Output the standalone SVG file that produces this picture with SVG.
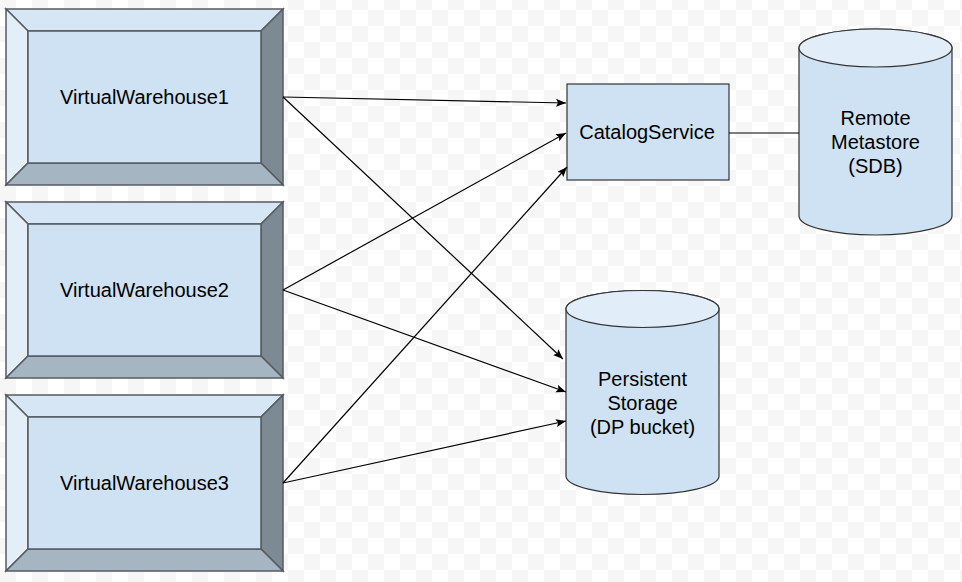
<svg xmlns="http://www.w3.org/2000/svg" width="962" height="582" viewBox="0 0 962 582">
  <defs>
    <pattern id="checker" patternUnits="userSpaceOnUse" x="0" y="10" width="32" height="32">
      <rect width="32" height="32" fill="#ffffff"/>
      <rect x="16" y="0" width="16" height="16" fill="#f6f6f6"/>
      <rect x="0" y="16" width="16" height="16" fill="#f6f6f6"/>
    </pattern>
    <marker id="arrow" markerUnits="userSpaceOnUse" markerWidth="12" markerHeight="10" refX="10" refY="4" orient="auto">
      <path d="M0,0 L10,4 L0,8 L2,4 z" fill="#000"/>
    </marker>
  </defs>
  <style>
    .txt { font-family: "Liberation Sans", Arial, sans-serif; font-size: 20px; fill: #000; text-anchor: middle; }
    .bv { stroke: #555b61; stroke-width: 1.5; stroke-linejoin: miter; }
    .top { fill: #d6e6f5; }
    .left { fill: #e3eef9; }
    .right { fill: #7d8993; }
    .bottom { fill: #a6b5c2; }
    .face { fill: #cfe2f3; stroke: #555b61; stroke-width: 1.5; }
    .box { fill: #cfe2f3; stroke: #333; stroke-width: 1.2; }
    .cylbody { fill: #cfe2f3; stroke: #333; stroke-width: 1.2; }
    .cyltop { fill: #e1edf8; stroke: #333; stroke-width: 1.2; }
    .edge { stroke: #000; stroke-width: 1.2; fill: none; }
  </style>
  <rect width="962" height="582" fill="url(#checker)"/>

  <g id="vw1">
    <polygon class="bv top" points="6,9 283,9 261,31 28,31"/>
    <polygon class="bv left" points="6,9 28,31 28,163 6,185"/>
    <polygon class="bv right" points="283,9 283,185 261,163 261,31"/>
    <polygon class="bv bottom" points="6,185 28,163 261,163 283,185"/>
    <rect class="face" x="28" y="31" width="233" height="132"/>
    <text class="txt" x="144.5" y="104">VirtualWarehouse1</text>
  </g>
  <g id="vw2">
    <polygon class="bv top" points="6,202 283,202 261,224 28,224"/>
    <polygon class="bv left" points="6,202 28,224 28,356 6,378"/>
    <polygon class="bv right" points="283,202 283,378 261,356 261,224"/>
    <polygon class="bv bottom" points="6,378 28,356 261,356 283,378"/>
    <rect class="face" x="28" y="224" width="233" height="132"/>
    <text class="txt" x="144.5" y="297">VirtualWarehouse2</text>
  </g>
  <g id="vw3">
    <polygon class="bv top" points="6,395 283,395 261,417 28,417"/>
    <polygon class="bv left" points="6,395 28,417 28,549 6,571"/>
    <polygon class="bv right" points="283,395 283,571 261,549 261,417"/>
    <polygon class="bv bottom" points="6,571 28,549 261,549 283,571"/>
    <rect class="face" x="28" y="417" width="233" height="132"/>
    <text class="txt" x="144.5" y="490">VirtualWarehouse3</text>
  </g>

  <g id="catalog">
    <rect class="box" x="567" y="84" width="162" height="96"/>
    <text class="txt" x="647" y="139">CatalogService</text>
  </g>

  <g id="metastore">
    <path class="cylbody" d="M799,48 A76.5,19 0 0 1 952,48 V216 A76.5,19 0 0 1 799,216 Z"/>
    <ellipse class="cyltop" cx="875.5" cy="48" rx="76.5" ry="19"/>
    <text class="txt" x="875.5" y="125">Remote</text>
    <text class="txt" x="875.5" y="149">Metastore</text>
    <text class="txt" x="875.5" y="173">(SDB)</text>
  </g>

  <g id="storage">
    <path class="cylbody" d="M566,309 A76.5,18.5 0 0 1 719,309 V476 A76.5,18.5 0 0 1 566,476 Z"/>
    <ellipse class="cyltop" cx="642.5" cy="309" rx="76.5" ry="18.5"/>
    <text class="txt" x="642.5" y="386">Persistent</text>
    <text class="txt" x="642.5" y="410">Storage</text>
    <text class="txt" x="642.5" y="434">(DP bucket)</text>
  </g>

  <g id="connectors">
    <line class="edge" x1="283" y1="97" x2="566" y2="103" marker-end="url(#arrow)"/>
    <line class="edge" x1="283" y1="97" x2="563" y2="359" marker-end="url(#arrow)"/>
    <line class="edge" x1="283" y1="290" x2="566" y2="133" marker-end="url(#arrow)"/>
    <line class="edge" x1="283" y1="290" x2="566" y2="392" marker-end="url(#arrow)"/>
    <line class="edge" x1="283" y1="483" x2="567" y2="167" marker-end="url(#arrow)"/>
    <line class="edge" x1="283" y1="483" x2="566" y2="421" marker-end="url(#arrow)"/>
    <line class="edge" x1="729" y1="133" x2="799" y2="133"/>
  </g>
</svg>
